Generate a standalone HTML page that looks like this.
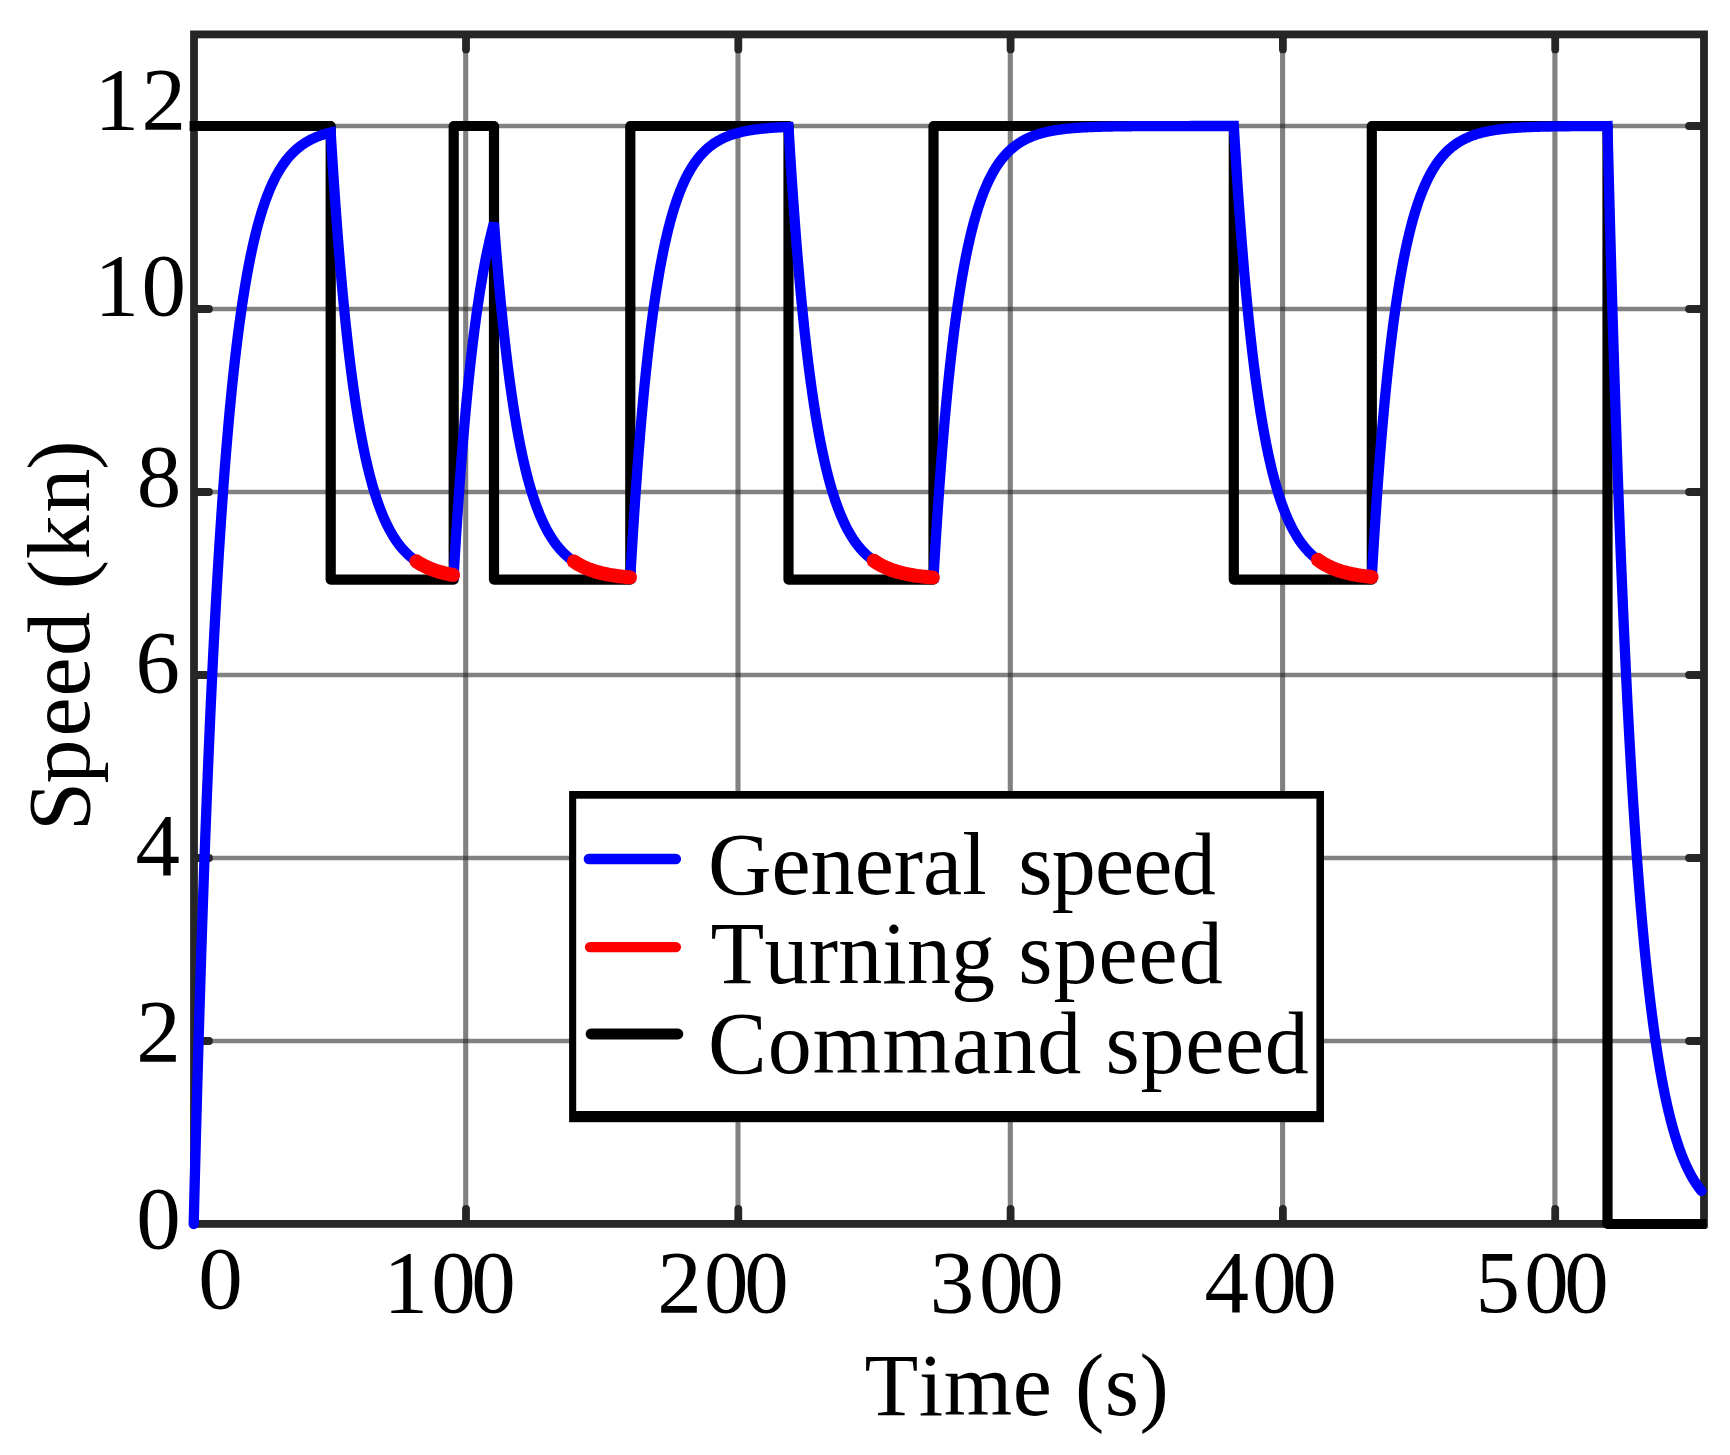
<!DOCTYPE html>
<html lang="en"><head><meta charset="utf-8"><title>Speed vs time</title>
<style>html,body{margin:0;padding:0;background:#fff;overflow:hidden}svg{display:block}</style></head>
<body>
<svg width="1730" height="1455" viewBox="0 0 1730 1455">
<rect width="1730" height="1455" fill="#fff"/>
<g stroke="#262626" stroke-opacity="0.58" fill="none">
<line x1="465.7" y1="34.4" x2="465.7" y2="1223.9" stroke-width="5.1"/>
<line x1="738" y1="34.4" x2="738" y2="1223.9" stroke-width="5.1"/>
<line x1="1010.3" y1="34.4" x2="1010.3" y2="1223.9" stroke-width="5.1"/>
<line x1="1282.6" y1="34.4" x2="1282.6" y2="1223.9" stroke-width="5.1"/>
<line x1="1554.9" y1="34.4" x2="1554.9" y2="1223.9" stroke-width="5.1"/>
<line x1="194" y1="1041" x2="1704" y2="1041" stroke-width="4.3"/>
<line x1="194" y1="858" x2="1704" y2="858" stroke-width="4.3"/>
<line x1="194" y1="675" x2="1704" y2="675" stroke-width="4.3"/>
<line x1="194" y1="492" x2="1704" y2="492" stroke-width="4.3"/>
<line x1="194" y1="309" x2="1704" y2="309" stroke-width="4.3"/>
<line x1="194" y1="126" x2="1704" y2="126" stroke-width="4.3"/>
</g>
<g stroke="#262626" stroke-width="7.8" fill="none" stroke-linecap="round">
<line x1="466" y1="35.4" x2="466" y2="49.4"/>
<line x1="466" y1="1222.9" x2="466" y2="1208.9"/>
<line x1="738.3" y1="35.4" x2="738.3" y2="49.4"/>
<line x1="738.3" y1="1222.9" x2="738.3" y2="1208.9"/>
<line x1="1010.6" y1="35.4" x2="1010.6" y2="49.4"/>
<line x1="1010.6" y1="1222.9" x2="1010.6" y2="1208.9"/>
<line x1="1282.9" y1="35.4" x2="1282.9" y2="49.4"/>
<line x1="1282.9" y1="1222.9" x2="1282.9" y2="1208.9"/>
<line x1="1555.2" y1="35.4" x2="1555.2" y2="49.4"/>
<line x1="1555.2" y1="1222.9" x2="1555.2" y2="1208.9"/>
<line x1="195" y1="1041" x2="209" y2="1041"/>
<line x1="1703" y1="1041" x2="1689" y2="1041"/>
<line x1="195" y1="858" x2="209" y2="858"/>
<line x1="1703" y1="858" x2="1689" y2="858"/>
<line x1="195" y1="675" x2="209" y2="675"/>
<line x1="1703" y1="675" x2="1689" y2="675"/>
<line x1="195" y1="492" x2="209" y2="492"/>
<line x1="1703" y1="492" x2="1689" y2="492"/>
<line x1="195" y1="309" x2="209" y2="309"/>
<line x1="1703" y1="309" x2="1689" y2="309"/>
<line x1="195" y1="126" x2="209" y2="126"/>
<line x1="1703" y1="126" x2="1689" y2="126"/>
<rect x="194" y="34.4" width="1510" height="1189.5" stroke-linejoin="miter"/>
</g>
<path d="M189.6,126 H330.7 V579.6 H453.7 V126 H494 V579.6 H630.3 V126 H788.5 V579.6 H933.5 V126 H1233.8 V579.6 H1371.8 V126 H1607.5 V1224 H1706.6" fill="none" stroke="#000" stroke-width="10.2" stroke-linejoin="round" stroke-linecap="butt"/>
<path d="M193.7,1224 L194.38,1196.31 L195.06,1169.32 L195.74,1143.01 L196.43,1117.36 L197.11,1092.36 L197.79,1067.99 L198.47,1044.23 L199.15,1021.08 L199.83,998.51 L200.52,976.5 L201.2,955.05 L201.88,934.15 L202.56,913.77 L203.24,893.9 L203.92,874.54 L204.61,855.66 L205.29,837.26 L205.97,819.32 L206.65,801.84 L207.33,784.79 L208.01,768.18 L208.7,751.99 L209.38,736.2 L210.06,720.81 L210.74,705.81 L211.42,691.19 L212.1,676.94 L212.78,663.04 L213.47,649.5 L214.15,636.3 L214.83,623.43 L215.51,610.88 L216.19,598.66 L216.87,586.74 L217.56,575.12 L218.24,563.79 L218.92,552.75 L219.6,541.99 L220.28,531.5 L220.96,521.27 L221.65,511.3 L222.33,501.59 L223.01,492.12 L223.69,482.88 L224.37,473.88 L225.05,465.11 L225.73,456.56 L226.42,448.22 L227.1,440.1 L227.78,432.18 L228.46,424.45 L229.14,416.93 L229.82,409.59 L230.51,402.44 L231.19,395.47 L231.87,388.67 L232.55,382.05 L233.23,375.59 L233.91,369.3 L234.6,363.16 L235.28,357.18 L235.96,351.35 L236.64,345.67 L237.32,340.13 L238,334.73 L238.69,329.46 L239.37,324.33 L240.05,319.33 L240.73,314.46 L241.41,309.7 L242.09,305.07 L242.77,300.55 L243.46,296.15 L244.14,291.86 L244.82,287.68 L245.5,283.6 L246.18,279.63 L246.86,275.75 L247.55,271.98 L248.23,268.3 L248.91,264.71 L249.59,261.21 L250.27,257.8 L250.95,254.48 L251.64,251.24 L252.32,248.08 L253,245 L253.68,242 L254.36,239.07 L255.04,236.22 L255.72,233.44 L256.41,230.73 L257.09,228.09 L257.77,225.52 L258.45,223.01 L259.13,220.56 L259.81,218.18 L260.5,215.85 L261.18,213.59 L261.86,211.38 L262.54,209.22 L263.22,207.12 L263.9,205.08 L264.59,203.08 L265.27,201.14 L265.95,199.25 L266.63,197.4 L267.31,195.6 L267.99,193.84 L268.68,192.13 L269.36,190.46 L270.04,188.84 L270.72,187.25 L271.4,185.71 L272.08,184.2 L272.76,182.74 L273.45,181.3 L274.13,179.91 L274.81,178.55 L275.49,177.23 L276.17,175.93 L276.85,174.67 L277.54,173.45 L278.22,172.25 L278.9,171.08 L279.58,169.95 L280.26,168.84 L280.94,167.76 L281.63,166.71 L282.31,165.68 L282.99,164.68 L283.67,163.7 L284.35,162.75 L285.03,161.83 L285.71,160.92 L286.4,160.04 L287.08,159.18 L287.76,158.35 L288.44,157.53 L289.12,156.73 L289.8,155.96 L290.49,155.2 L291.17,154.47 L291.85,153.75 L292.53,153.05 L293.21,152.37 L293.89,151.7 L294.58,151.05 L295.26,150.42 L295.94,149.81 L296.62,149.21 L297.3,148.62 L297.98,148.05 L298.67,147.49 L299.35,146.95 L300.03,146.42 L300.71,145.91 L301.39,145.41 L302.07,144.92 L302.75,144.44 L303.44,143.98 L304.12,143.52 L304.8,143.08 L305.48,142.65 L306.16,142.23 L306.84,141.82 L307.53,141.42 L308.21,141.03 L308.89,140.65 L309.57,140.28 L310.25,139.92 L310.93,139.57 L311.62,139.23 L312.3,138.9 L312.98,138.57 L313.66,138.25 L314.34,137.95 L315.02,137.64 L315.7,137.35 L316.39,137.06 L317.07,136.79 L317.75,136.51 L318.43,136.25 L319.11,135.99 L319.79,135.74 L320.48,135.49 L321.16,135.25 L321.84,135.02 L322.52,134.79 L323.2,134.57 L323.88,134.35 L324.57,134.14 L325.25,133.94 L325.93,133.74 L326.61,133.54 L327.29,133.35 L327.97,133.17 L328.66,132.99 L329.34,132.81 L330.02,132.64 L330.7,132.47 L331.38,143.72 L332.07,154.68 L332.75,165.37 L333.43,175.79 L334.12,185.95 L334.8,195.85 L335.48,205.51 L336.17,214.92 L336.85,224.09 L337.53,233.03 L338.22,241.75 L338.9,250.25 L339.58,258.53 L340.27,266.61 L340.95,274.48 L341.63,282.16 L342.32,289.64 L343,296.94 L343.68,304.05 L344.37,310.98 L345.05,317.73 L345.73,324.32 L346.42,330.74 L347.1,337 L347.78,343.11 L348.47,349.06 L349.15,354.85 L349.83,360.51 L350.52,366.02 L351.2,371.39 L351.88,376.63 L352.57,381.74 L353.25,386.71 L353.93,391.57 L354.62,396.3 L355.3,400.91 L355.98,405.4 L356.67,409.78 L357.35,414.06 L358.03,418.22 L358.72,422.28 L359.4,426.24 L360.08,430.09 L360.77,433.86 L361.45,437.52 L362.13,441.1 L362.82,444.58 L363.5,447.98 L364.18,451.29 L364.87,454.51 L365.55,457.66 L366.23,460.73 L366.92,463.72 L367.6,466.63 L368.28,469.48 L368.97,472.25 L369.65,474.95 L370.33,477.58 L371.02,480.15 L371.7,482.65 L372.38,485.09 L373.07,487.46 L373.75,489.78 L374.43,492.04 L375.12,494.24 L375.8,496.39 L376.48,498.48 L377.17,500.52 L377.85,502.51 L378.53,504.45 L379.22,506.34 L379.9,508.19 L380.58,509.98 L381.27,511.73 L381.95,513.44 L382.63,515.1 L383.32,516.73 L384,518.31 L384.68,519.85 L385.37,521.35 L386.05,522.82 L386.73,524.25 L387.42,525.64 L388.1,527 L388.78,528.32 L389.47,529.61 L390.15,530.87 L390.83,532.09 L391.52,533.29 L392.2,534.45 L392.88,535.59 L393.57,536.7 L394.25,537.78 L394.93,538.83 L395.62,539.85 L396.3,540.85 L396.98,541.83 L397.67,542.78 L398.35,543.7 L399.03,544.61 L399.72,545.49 L400.4,546.35 L401.08,547.18 L401.77,548 L402.45,548.79 L403.13,549.57 L403.82,550.32 L404.5,551.06 L405.18,551.78 L405.87,552.48 L406.55,553.16 L407.23,553.82 L407.92,554.47 L408.6,555.11 L409.28,555.72 L409.97,556.32 L410.65,556.91 L411.33,557.48 L412.02,558.03 L412.7,558.58 L413.38,559.11 L414.07,559.62 L414.75,560.12 L415.43,560.61 L416.12,561.09 L416.8,561.56 L417.48,562.01 L418.17,562.45 L418.85,562.88 L419.53,563.31 L420.22,563.72 L420.9,564.11 L421.58,564.5 L422.27,564.88 L422.95,565.25 L423.63,565.62 L424.32,565.97 L425,566.31 L425.68,566.64 L426.37,566.97 L427.05,567.29 L427.73,567.6 L428.42,567.9 L429.1,568.19 L429.78,568.48 L430.47,568.76 L431.15,569.03 L431.83,569.3 L432.52,569.56 L433.2,569.81 L433.88,570.06 L434.57,570.3 L435.25,570.53 L435.93,570.76 L436.62,570.98 L437.3,571.2 L437.98,571.41 L438.67,571.62 L439.35,571.82 L440.03,572.01 L440.72,572.2 L441.4,572.39 L442.08,572.57 L442.77,572.75 L443.45,572.92 L444.13,573.09 L444.82,573.25 L445.5,573.41 L446.18,573.57 L446.87,573.72 L447.55,573.87 L448.23,574.01 L448.92,574.15 L449.6,574.29 L450.28,574.42 L450.97,574.55 L451.65,574.68 L452.33,574.8 L453.02,574.92 L453.7,575.04 L454.38,563.52 L455.07,552.29 L455.75,541.35 L456.43,530.7 L457.12,520.31 L457.8,510.19 L458.48,500.34 L459.16,490.73 L459.85,481.37 L460.53,472.25 L461.21,463.37 L461.9,454.71 L462.58,446.28 L463.26,438.06 L463.95,430.05 L464.63,422.25 L465.31,414.65 L465.99,407.24 L466.68,400.03 L467.36,392.99 L468.04,386.14 L468.73,379.47 L469.41,372.96 L470.09,366.63 L470.78,360.45 L471.46,354.44 L472.14,348.58 L472.83,342.87 L473.51,337.3 L474.19,331.88 L474.87,326.6 L475.56,321.45 L476.24,316.43 L476.92,311.55 L477.61,306.79 L478.29,302.15 L478.97,297.63 L479.66,293.22 L480.34,288.93 L481.02,284.75 L481.71,280.68 L482.39,276.71 L483.07,272.84 L483.75,269.07 L484.44,265.4 L485.12,261.83 L485.8,258.34 L486.49,254.95 L487.17,251.64 L487.85,248.41 L488.54,245.27 L489.22,242.21 L489.9,239.23 L490.58,236.32 L491.27,233.49 L491.95,230.74 L492.63,228.05 L493.32,225.43 L494,222.88 L494.68,231.83 L495.36,240.55 L496.04,249.06 L496.73,257.35 L497.41,265.44 L498.09,273.32 L498.77,281 L499.45,288.49 L500.13,295.8 L500.81,302.92 L501.5,309.86 L502.18,316.63 L502.86,323.22 L503.54,329.66 L504.22,335.93 L504.9,342.04 L505.59,348 L506.27,353.81 L506.95,359.48 L507.63,365 L508.31,370.38 L508.99,375.63 L509.67,380.75 L510.36,385.74 L511.04,390.6 L511.72,395.34 L512.4,399.97 L513.08,404.47 L513.76,408.87 L514.44,413.15 L515.13,417.33 L515.81,421.4 L516.49,425.37 L517.17,429.24 L517.85,433.01 L518.53,436.69 L519.22,440.27 L519.9,443.77 L520.58,447.17 L521.26,450.5 L521.94,453.74 L522.62,456.89 L523.3,459.97 L523.99,462.97 L524.67,465.9 L525.35,468.75 L526.03,471.53 L526.71,474.24 L527.39,476.89 L528.08,479.46 L528.76,481.98 L529.44,484.43 L530.12,486.81 L530.8,489.14 L531.48,491.41 L532.16,493.62 L532.85,495.78 L533.53,497.88 L534.21,499.93 L534.89,501.93 L535.57,503.88 L536.25,505.78 L536.93,507.63 L537.62,509.44 L538.3,511.2 L538.98,512.91 L539.66,514.59 L540.34,516.22 L541.02,517.81 L541.7,519.36 L542.39,520.87 L543.07,522.34 L543.75,523.78 L544.43,525.18 L545.11,526.55 L545.79,527.88 L546.48,529.17 L547.16,530.44 L547.84,531.67 L548.52,532.88 L549.2,534.05 L549.88,535.19 L550.56,536.31 L551.25,537.39 L551.93,538.45 L552.61,539.48 L553.29,540.49 L553.97,541.47 L554.65,542.43 L555.33,543.36 L556.02,544.27 L556.7,545.16 L557.38,546.02 L558.06,546.86 L558.74,547.68 L559.42,548.48 L560.11,549.26 L560.79,550.03 L561.47,550.77 L562.15,551.49 L562.83,552.2 L563.51,552.88 L564.19,553.55 L564.88,554.21 L565.56,554.84 L566.24,555.47 L566.92,556.07 L567.6,556.66 L568.28,557.24 L568.96,557.8 L569.65,558.34 L570.33,558.88 L571.01,559.4 L571.69,559.9 L572.37,560.4 L573.05,560.88 L573.74,561.35 L574.42,561.81 L575.1,562.25 L575.78,562.69 L576.46,563.11 L577.14,563.53 L577.82,563.93 L578.51,564.32 L579.19,564.71 L579.87,565.08 L580.55,565.45 L581.23,565.8 L581.91,566.15 L582.6,566.48 L583.28,566.81 L583.96,567.13 L584.64,567.45 L585.32,567.75 L586,568.05 L586.68,568.34 L587.37,568.62 L588.05,568.9 L588.73,569.17 L589.41,569.43 L590.09,569.68 L590.77,569.93 L591.45,570.17 L592.14,570.41 L592.82,570.64 L593.5,570.87 L594.18,571.08 L594.86,571.3 L595.54,571.51 L596.22,571.71 L596.91,571.91 L597.59,572.1 L598.27,572.29 L598.95,572.47 L599.63,572.65 L600.31,572.83 L601,573 L601.68,573.16 L602.36,573.32 L603.04,573.48 L603.72,573.63 L604.4,573.78 L605.08,573.93 L605.77,574.07 L606.45,574.21 L607.13,574.35 L607.81,574.48 L608.49,574.61 L609.17,574.73 L609.86,574.85 L610.54,574.97 L611.22,575.09 L611.9,575.2 L612.58,575.31 L613.26,575.42 L613.94,575.52 L614.63,575.63 L615.31,575.73 L615.99,575.82 L616.67,575.92 L617.35,576.01 L618.03,576.1 L618.71,576.19 L619.4,576.27 L620.08,576.36 L620.76,576.44 L621.44,576.52 L622.12,576.6 L622.8,576.67 L623.48,576.74 L624.17,576.82 L624.85,576.89 L625.53,576.95 L626.21,577.02 L626.89,577.09 L627.57,577.15 L628.26,577.21 L628.94,577.27 L629.62,577.33 L630.3,577.39 L630.98,565.58 L631.66,554.08 L632.35,542.89 L633.03,531.99 L633.71,521.37 L634.39,511.03 L635.07,500.96 L635.76,491.16 L636.44,481.61 L637.12,472.31 L637.8,463.25 L638.48,454.43 L639.16,445.84 L639.85,437.48 L640.53,429.33 L641.21,421.4 L641.89,413.67 L642.57,406.15 L643.26,398.82 L643.94,391.69 L644.62,384.74 L645.3,377.98 L645.98,371.39 L646.67,364.97 L647.35,358.72 L648.03,352.63 L648.71,346.71 L649.39,340.93 L650.07,335.31 L650.76,329.84 L651.44,324.51 L652.12,319.32 L652.8,314.26 L653.48,309.34 L654.17,304.54 L654.85,299.87 L655.53,295.33 L656.21,290.9 L656.89,286.59 L657.58,282.39 L658.26,278.3 L658.94,274.31 L659.62,270.44 L660.3,266.66 L660.99,262.98 L661.67,259.4 L662.35,255.91 L663.03,252.51 L663.71,249.2 L664.39,245.98 L665.08,242.84 L665.76,239.79 L666.44,236.81 L667.12,233.91 L667.8,231.09 L668.49,228.34 L669.17,225.67 L669.85,223.06 L670.53,220.52 L671.21,218.05 L671.9,215.64 L672.58,213.3 L673.26,211.02 L673.94,208.79 L674.62,206.63 L675.31,204.52 L675.99,202.47 L676.67,200.47 L677.35,198.52 L678.03,196.62 L678.71,194.78 L679.4,192.98 L680.08,191.23 L680.76,189.52 L681.44,187.86 L682.12,186.24 L682.81,184.67 L683.49,183.13 L684.17,181.64 L684.85,180.18 L685.53,178.77 L686.22,177.39 L686.9,176.04 L687.58,174.73 L688.26,173.46 L688.94,172.22 L689.62,171.01 L690.31,169.83 L690.99,168.69 L691.67,167.57 L692.35,166.48 L693.03,165.42 L693.72,164.39 L694.4,163.39 L695.08,162.41 L695.76,161.46 L696.44,160.53 L697.13,159.63 L697.81,158.75 L698.49,157.89 L699.17,157.06 L699.85,156.25 L700.54,155.46 L701.22,154.68 L701.9,153.93 L702.58,153.2 L703.26,152.49 L703.94,151.8 L704.63,151.13 L705.31,150.47 L705.99,149.83 L706.67,149.2 L707.35,148.6 L708.04,148.01 L708.72,147.43 L709.4,146.87 L710.08,146.33 L710.76,145.79 L711.45,145.28 L712.13,144.77 L712.81,144.28 L713.49,143.8 L714.17,143.34 L714.86,142.88 L715.54,142.44 L716.22,142.01 L716.9,141.59 L717.58,141.19 L718.26,140.79 L718.95,140.4 L719.63,140.03 L720.31,139.66 L720.99,139.3 L721.67,138.95 L722.36,138.61 L723.04,138.28 L723.72,137.96 L724.4,137.65 L725.08,137.35 L725.77,137.05 L726.45,136.76 L727.13,136.48 L727.81,136.21 L728.49,135.94 L729.17,135.68 L729.86,135.43 L730.54,135.18 L731.22,134.94 L731.9,134.7 L732.58,134.48 L733.27,134.26 L733.95,134.04 L734.63,133.83 L735.31,133.62 L735.99,133.43 L736.68,133.23 L737.36,133.04 L738.04,132.86 L738.72,132.68 L739.4,132.5 L740.09,132.33 L740.77,132.17 L741.45,132.01 L742.13,131.85 L742.81,131.7 L743.49,131.55 L744.18,131.4 L744.86,131.26 L745.54,131.12 L746.22,130.99 L746.9,130.86 L747.59,130.73 L748.27,130.61 L748.95,130.49 L749.63,130.37 L750.31,130.26 L751,130.14 L751.68,130.04 L752.36,129.93 L753.04,129.83 L753.72,129.73 L754.41,129.63 L755.09,129.54 L755.77,129.44 L756.45,129.35 L757.13,129.27 L757.81,129.18 L758.5,129.1 L759.18,129.02 L759.86,128.94 L760.54,128.86 L761.22,128.79 L761.91,128.71 L762.59,128.64 L763.27,128.57 L763.95,128.51 L764.63,128.44 L765.32,128.38 L766,128.31 L766.68,128.25 L767.36,128.19 L768.04,128.14 L768.72,128.08 L769.41,128.03 L770.09,127.97 L770.77,127.92 L771.45,127.87 L772.13,127.82 L772.82,127.78 L773.5,127.73 L774.18,127.68 L774.86,127.64 L775.54,127.6 L776.23,127.55 L776.91,127.51 L777.59,127.47 L778.27,127.44 L778.95,127.4 L779.64,127.36 L780.32,127.33 L781,127.29 L781.68,127.26 L782.36,127.22 L783.04,127.19 L783.73,127.16 L784.41,127.13 L785.09,127.1 L785.77,127.07 L786.45,127.04 L787.14,127.02 L787.82,126.99 L788.5,126.97 L789.18,138.31 L789.86,149.37 L790.54,160.15 L791.22,170.66 L791.9,180.91 L792.58,190.9 L793.27,200.64 L793.95,210.14 L794.63,219.4 L795.31,228.43 L795.99,237.23 L796.67,245.81 L797.35,254.17 L798.03,262.33 L798.71,270.28 L799.39,278.03 L800.07,285.59 L800.75,292.96 L801.43,300.14 L802.12,307.15 L802.8,313.97 L803.48,320.63 L804.16,327.12 L804.84,333.45 L805.52,339.62 L806.2,345.63 L806.88,351.5 L807.56,357.21 L808.24,362.79 L808.92,368.22 L809.6,373.52 L810.28,378.68 L810.96,383.72 L811.65,388.63 L812.33,393.41 L813.01,398.08 L813.69,402.63 L814.37,407.06 L815.05,411.39 L815.73,415.6 L816.41,419.71 L817.09,423.72 L817.77,427.63 L818.45,431.43 L819.13,435.15 L819.81,438.77 L820.5,442.3 L821.18,445.74 L821.86,449.09 L822.54,452.36 L823.22,455.55 L823.9,458.66 L824.58,461.69 L825.26,464.65 L825.94,467.53 L826.62,470.34 L827.3,473.07 L827.98,475.74 L828.66,478.35 L829.35,480.88 L830.03,483.36 L830.71,485.77 L831.39,488.12 L832.07,490.41 L832.75,492.65 L833.43,494.83 L834.11,496.95 L834.79,499.02 L835.47,501.04 L836.15,503.01 L836.83,504.93 L837.51,506.8 L838.19,508.63 L838.88,510.41 L839.56,512.14 L840.24,513.83 L840.92,515.48 L841.6,517.09 L842.28,518.65 L842.96,520.18 L843.64,521.67 L844.32,523.12 L845,524.54 L845.68,525.92 L846.36,527.26 L847.04,528.57 L847.73,529.85 L848.41,531.1 L849.09,532.31 L849.77,533.5 L850.45,534.66 L851.13,535.78 L851.81,536.88 L852.49,537.95 L853.17,538.99 L853.85,540.01 L854.53,541 L855.21,541.97 L855.89,542.91 L856.58,543.83 L857.26,544.73 L857.94,545.6 L858.62,546.46 L859.3,547.29 L859.98,548.1 L860.66,548.89 L861.34,549.66 L862.02,550.41 L862.7,551.14 L863.38,551.85 L864.06,552.55 L864.74,553.22 L865.42,553.89 L866.11,554.53 L866.79,555.16 L867.47,555.77 L868.15,556.37 L868.83,556.95 L869.51,557.52 L870.19,558.07 L870.87,558.61 L871.55,559.14 L872.23,559.65 L872.91,560.15 L873.59,560.64 L874.27,561.11 L874.96,561.58 L875.64,562.03 L876.32,562.47 L877,562.9 L877.68,563.32 L878.36,563.72 L879.04,564.12 L879.72,564.51 L880.4,564.89 L881.08,565.26 L881.76,565.62 L882.44,565.97 L883.12,566.31 L883.81,566.64 L884.49,566.97 L885.17,567.28 L885.85,567.59 L886.53,567.89 L887.21,568.19 L887.89,568.47 L888.57,568.75 L889.25,569.02 L889.93,569.29 L890.61,569.55 L891.29,569.8 L891.97,570.04 L892.65,570.28 L893.34,570.52 L894.02,570.74 L894.7,570.97 L895.38,571.18 L896.06,571.39 L896.74,571.6 L897.42,571.8 L898.1,572 L898.78,572.19 L899.46,572.37 L900.14,572.55 L900.82,572.73 L901.5,572.9 L902.19,573.07 L902.87,573.23 L903.55,573.39 L904.23,573.55 L904.91,573.7 L905.59,573.85 L906.27,573.99 L906.95,574.13 L907.63,574.27 L908.31,574.4 L908.99,574.53 L909.67,574.66 L910.35,574.78 L911.04,574.9 L911.72,575.02 L912.4,575.14 L913.08,575.25 L913.76,575.36 L914.44,575.46 L915.12,575.57 L915.8,575.67 L916.48,575.77 L917.16,575.86 L917.84,575.96 L918.52,576.05 L919.2,576.14 L919.88,576.22 L920.57,576.31 L921.25,576.39 L921.93,576.47 L922.61,576.55 L923.29,576.63 L923.97,576.7 L924.65,576.77 L925.33,576.84 L926.01,576.91 L926.69,576.98 L927.37,577.05 L928.05,577.11 L928.73,577.17 L929.42,577.23 L930.1,577.29 L930.78,577.35 L931.46,577.41 L932.14,577.46 L932.82,577.52 L933.5,577.57 L934.18,565.96 L934.86,554.64 L935.54,543.62 L936.22,532.88 L936.9,522.42 L937.59,512.23 L938.27,502.3 L938.95,492.62 L939.63,483.19 L940.31,474.01 L940.99,465.06 L941.67,456.34 L942.35,447.85 L943.03,439.57 L943.71,431.51 L944.4,423.66 L945.08,416 L945.76,408.54 L946.44,401.28 L947.12,394.2 L947.8,387.31 L948.48,380.59 L949.16,374.04 L949.84,367.66 L950.52,361.45 L951.2,355.39 L951.89,349.5 L952.57,343.75 L953.25,338.15 L953.93,332.69 L954.61,327.38 L955.29,322.2 L955.97,317.16 L956.65,312.24 L957.33,307.45 L958.01,302.79 L958.7,298.24 L959.38,293.81 L960.06,289.5 L960.74,285.29 L961.42,281.2 L962.1,277.21 L962.78,273.32 L963.46,269.53 L964.14,265.84 L964.82,262.24 L965.5,258.74 L966.19,255.33 L966.87,252 L967.55,248.76 L968.23,245.61 L968.91,242.53 L969.59,239.53 L970.27,236.62 L970.95,233.77 L971.63,231 L972.31,228.3 L973,225.67 L973.68,223.11 L974.36,220.61 L975.04,218.18 L975.72,215.81 L976.4,213.5 L977.08,211.25 L977.76,209.06 L978.44,206.92 L979.12,204.84 L979.8,202.81 L980.49,200.84 L981.17,198.91 L981.85,197.04 L982.53,195.21 L983.21,193.43 L983.89,191.7 L984.57,190.01 L985.25,188.36 L985.93,186.76 L986.61,185.2 L987.3,183.67 L987.98,182.19 L988.66,180.75 L989.34,179.34 L990.02,177.97 L990.7,176.63 L991.38,175.33 L992.06,174.06 L992.74,172.83 L993.42,171.62 L994.1,170.45 L994.79,169.31 L995.47,168.19 L996.15,167.11 L996.83,166.05 L997.51,165.02 L998.19,164.02 L998.87,163.04 L999.55,162.09 L1000.23,161.16 L1000.91,160.26 L1001.6,159.37 L1002.28,158.52 L1002.96,157.68 L1003.64,156.87 L1004.32,156.07 L1005,155.3 L1005.68,154.55 L1006.36,153.81 L1007.04,153.1 L1007.72,152.4 L1008.4,151.72 L1009.09,151.06 L1009.77,150.41 L1010.45,149.79 L1011.13,149.18 L1011.81,148.58 L1012.49,148 L1013.17,147.43 L1013.85,146.88 L1014.53,146.35 L1015.21,145.82 L1015.9,145.31 L1016.58,144.82 L1017.26,144.33 L1017.94,143.86 L1018.62,143.4 L1019.3,142.95 L1019.98,142.52 L1020.66,142.09 L1021.34,141.68 L1022.02,141.28 L1022.7,140.88 L1023.39,140.5 L1024.07,140.13 L1024.75,139.76 L1025.43,139.41 L1026.11,139.07 L1026.79,138.73 L1027.47,138.4 L1028.15,138.08 L1028.83,137.77 L1029.51,137.47 L1030.2,137.18 L1030.88,136.89 L1031.56,136.61 L1032.24,136.34 L1032.92,136.07 L1033.6,135.81 L1034.28,135.56 L1034.96,135.31 L1035.64,135.07 L1036.32,134.84 L1037,134.61 L1037.69,134.39 L1038.37,134.18 L1039.05,133.97 L1039.73,133.76 L1040.41,133.56 L1041.09,133.37 L1041.77,133.18 L1042.45,132.99 L1043.13,132.81 L1043.81,132.64 L1044.5,132.47 L1045.18,132.3 L1045.86,132.14 L1046.54,131.98 L1047.22,131.83 L1047.9,131.68 L1048.58,131.53 L1049.26,131.39 L1049.94,131.25 L1050.62,131.12 L1051.3,130.98 L1051.99,130.86 L1052.67,130.73 L1053.35,130.61 L1054.03,130.49 L1054.71,130.38 L1055.39,130.26 L1056.07,130.15 L1056.75,130.05 L1057.43,129.94 L1058.11,129.84 L1058.8,129.74 L1059.48,129.65 L1060.16,129.55 L1060.84,129.46 L1061.52,129.37 L1062.2,129.29 L1062.88,129.2 L1063.56,129.12 L1064.24,129.04 L1064.92,128.96 L1065.6,128.88 L1066.29,128.81 L1066.97,128.74 L1067.65,128.67 L1068.33,128.6 L1069.01,128.53 L1069.69,128.47 L1070.37,128.4 L1071.05,128.34 L1071.73,128.28 L1072.41,128.22 L1073.1,128.17 L1073.78,128.11 L1074.46,128.06 L1075.14,128 L1075.82,127.95 L1076.5,127.9 L1077.18,127.85 L1077.86,127.8 L1078.54,127.76 L1079.22,127.71 L1079.9,127.67 L1080.59,127.63 L1081.27,127.58 L1081.95,127.54 L1082.63,127.5 L1083.31,127.47 L1083.99,127.43 L1084.67,127.39 L1085.35,127.35 L1086.03,127.32 L1086.71,127.29 L1087.4,127.25 L1088.08,127.22 L1088.76,127.19 L1089.44,127.16 L1090.12,127.13 L1090.8,127.1 L1091.48,127.07 L1092.16,127.04 L1092.84,127.02 L1093.52,126.99 L1094.2,126.97 L1094.89,126.94 L1095.57,126.92 L1096.25,126.89 L1096.93,126.87 L1097.61,126.85 L1098.29,126.83 L1098.97,126.8 L1099.65,126.78 L1100.33,126.76 L1101.01,126.74 L1101.7,126.73 L1102.38,126.71 L1103.06,126.69 L1103.74,126.67 L1104.42,126.65 L1105.1,126.64 L1105.78,126.62 L1106.46,126.6 L1107.14,126.59 L1107.82,126.57 L1108.5,126.56 L1109.19,126.54 L1109.87,126.53 L1110.55,126.52 L1111.23,126.5 L1111.91,126.49 L1112.59,126.48 L1113.27,126.47 L1113.95,126.45 L1114.63,126.44 L1115.31,126.43 L1116,126.42 L1116.68,126.41 L1117.36,126.4 L1118.04,126.39 L1118.72,126.38 L1119.4,126.37 L1120.08,126.36 L1120.76,126.35 L1121.44,126.34 L1122.12,126.33 L1122.8,126.32 L1123.49,126.32 L1124.17,126.31 L1124.85,126.3 L1125.53,126.29 L1126.21,126.28 L1126.89,126.28 L1127.57,126.27 L1128.25,126.26 L1128.93,126.26 L1129.61,126.25 L1130.3,126.24 L1130.98,126.24 L1131.66,126.23 L1132.34,126.22 L1133.02,126.22 L1133.7,126.21 L1134.38,126.21 L1135.06,126.2 L1135.74,126.2 L1136.42,126.19 L1137.1,126.19 L1137.79,126.18 L1138.47,126.18 L1139.15,126.17 L1139.83,126.17 L1140.51,126.16 L1141.19,126.16 L1141.87,126.16 L1142.55,126.15 L1143.23,126.15 L1143.91,126.14 L1144.6,126.14 L1145.28,126.14 L1145.96,126.13 L1146.64,126.13 L1147.32,126.13 L1148,126.12 L1148.68,126.12 L1149.36,126.12 L1150.04,126.11 L1150.72,126.11 L1151.4,126.11 L1152.09,126.11 L1152.77,126.1 L1153.45,126.1 L1154.13,126.1 L1154.81,126.1 L1155.49,126.09 L1156.17,126.09 L1156.85,126.09 L1157.53,126.09 L1158.21,126.08 L1158.9,126.08 L1159.58,126.08 L1160.26,126.08 L1160.94,126.08 L1161.62,126.07 L1162.3,126.07 L1162.98,126.07 L1163.66,126.07 L1164.34,126.07 L1165.02,126.06 L1165.7,126.06 L1166.39,126.06 L1167.07,126.06 L1167.75,126.06 L1168.43,126.06 L1169.11,126.06 L1169.79,126.05 L1170.47,126.05 L1171.15,126.05 L1171.83,126.05 L1172.51,126.05 L1173.2,126.05 L1173.88,126.05 L1174.56,126.04 L1175.24,126.04 L1175.92,126.04 L1176.6,126.04 L1177.28,126.04 L1177.96,126.04 L1178.64,126.04 L1179.32,126.04 L1180,126.04 L1180.69,126.04 L1181.37,126.03 L1182.05,126.03 L1182.73,126.03 L1183.41,126.03 L1184.09,126.03 L1184.77,126.03 L1185.45,126.03 L1186.13,126.03 L1186.81,126.03 L1187.5,126.03 L1188.18,126.03 L1188.86,126.03 L1189.54,126.03 L1190.22,126.02 L1190.9,126.02 L1191.58,126.02 L1192.26,126.02 L1192.94,126.02 L1193.62,126.02 L1194.3,126.02 L1194.99,126.02 L1195.67,126.02 L1196.35,126.02 L1197.03,126.02 L1197.71,126.02 L1198.39,126.02 L1199.07,126.02 L1199.75,126.02 L1200.43,126.02 L1201.11,126.02 L1201.8,126.02 L1202.48,126.02 L1203.16,126.01 L1203.84,126.01 L1204.52,126.01 L1205.2,126.01 L1205.88,126.01 L1206.56,126.01 L1207.24,126.01 L1207.92,126.01 L1208.6,126.01 L1209.29,126.01 L1209.97,126.01 L1210.65,126.01 L1211.33,126.01 L1212.01,126.01 L1212.69,126.01 L1213.37,126.01 L1214.05,126.01 L1214.73,126.01 L1215.41,126.01 L1216.1,126.01 L1216.78,126.01 L1217.46,126.01 L1218.14,126.01 L1218.82,126.01 L1219.5,126.01 L1220.18,126.01 L1220.86,126.01 L1221.54,126.01 L1222.22,126.01 L1222.9,126.01 L1223.59,126.01 L1224.27,126.01 L1224.95,126.01 L1225.63,126.01 L1226.31,126.01 L1226.99,126.01 L1227.67,126.01 L1228.35,126.01 L1229.03,126.01 L1229.71,126.01 L1230.4,126.01 L1231.08,126.01 L1231.76,126.01 L1232.44,126 L1233.12,126 L1233.8,126 L1234.48,137.41 L1235.17,148.53 L1235.85,159.37 L1236.53,169.94 L1237.22,180.24 L1237.9,190.29 L1238.58,200.08 L1239.27,209.62 L1239.95,218.93 L1240.63,228 L1241.31,236.84 L1242,245.46 L1242.68,253.86 L1243.36,262.06 L1244.05,270.04 L1244.73,277.83 L1245.41,285.42 L1246.1,292.82 L1246.78,300.03 L1247.46,307.06 L1248.15,313.91 L1248.83,320.6 L1249.51,327.11 L1250.2,333.46 L1250.88,339.65 L1251.56,345.68 L1252.25,351.57 L1252.93,357.3 L1253.61,362.89 L1254.3,368.34 L1254.98,373.66 L1255.66,378.83 L1256.34,383.88 L1257.03,388.81 L1257.71,393.6 L1258.39,398.28 L1259.08,402.84 L1259.76,407.29 L1260.44,411.62 L1261.13,415.85 L1261.81,419.96 L1262.49,423.98 L1263.18,427.89 L1263.86,431.71 L1264.54,435.43 L1265.23,439.05 L1265.91,442.59 L1266.59,446.03 L1267.28,449.39 L1267.96,452.67 L1268.64,455.86 L1269.32,458.97 L1270.01,462 L1270.69,464.96 L1271.37,467.85 L1272.06,470.66 L1272.74,473.4 L1273.42,476.07 L1274.11,478.67 L1274.79,481.21 L1275.47,483.68 L1276.16,486.1 L1276.84,488.45 L1277.52,490.74 L1278.21,492.97 L1278.89,495.15 L1279.57,497.28 L1280.26,499.35 L1280.94,501.37 L1281.62,503.33 L1282.3,505.25 L1282.99,507.12 L1283.67,508.94 L1284.35,510.72 L1285.04,512.45 L1285.72,514.14 L1286.4,515.79 L1287.09,517.39 L1287.77,518.96 L1288.45,520.48 L1289.14,521.97 L1289.82,523.42 L1290.5,524.83 L1291.19,526.21 L1291.87,527.55 L1292.55,528.86 L1293.24,530.14 L1293.92,531.38 L1294.6,532.59 L1295.29,533.78 L1295.97,534.93 L1296.65,536.05 L1297.33,537.15 L1298.02,538.21 L1298.7,539.25 L1299.38,540.27 L1300.07,541.26 L1300.75,542.22 L1301.43,543.16 L1302.12,544.08 L1302.8,544.97 L1303.48,545.84 L1304.17,546.69 L1304.85,547.52 L1305.53,548.33 L1306.22,549.11 L1306.9,549.88 L1307.58,550.63 L1308.27,551.36 L1308.95,552.07 L1309.63,552.76 L1310.31,553.43 L1311,554.09 L1311.68,554.73 L1312.36,555.36 L1313.05,555.97 L1313.73,556.56 L1314.41,557.14 L1315.1,557.71 L1315.78,558.26 L1316.46,558.79 L1317.15,559.32 L1317.83,559.83 L1318.51,560.32 L1319.2,560.81 L1319.88,561.28 L1320.56,561.74 L1321.25,562.19 L1321.93,562.63 L1322.61,563.06 L1323.3,563.47 L1323.98,563.88 L1324.66,564.27 L1325.34,564.66 L1326.03,565.03 L1326.71,565.4 L1327.39,565.76 L1328.08,566.11 L1328.76,566.45 L1329.44,566.78 L1330.13,567.1 L1330.81,567.41 L1331.49,567.72 L1332.18,568.02 L1332.86,568.31 L1333.54,568.59 L1334.23,568.87 L1334.91,569.14 L1335.59,569.4 L1336.28,569.66 L1336.96,569.91 L1337.64,570.15 L1338.32,570.39 L1339.01,570.62 L1339.69,570.85 L1340.37,571.07 L1341.06,571.28 L1341.74,571.49 L1342.42,571.7 L1343.11,571.9 L1343.79,572.09 L1344.47,572.28 L1345.16,572.46 L1345.84,572.64 L1346.52,572.82 L1347.21,572.99 L1347.89,573.15 L1348.57,573.32 L1349.26,573.47 L1349.94,573.63 L1350.62,573.78 L1351.3,573.92 L1351.99,574.07 L1352.67,574.21 L1353.35,574.34 L1354.04,574.47 L1354.72,574.6 L1355.4,574.73 L1356.09,574.85 L1356.77,574.97 L1357.45,575.09 L1358.14,575.2 L1358.82,575.31 L1359.5,575.42 L1360.19,575.52 L1360.87,575.63 L1361.55,575.73 L1362.24,575.82 L1362.92,575.92 L1363.6,576.01 L1364.29,576.1 L1364.97,576.19 L1365.65,576.28 L1366.33,576.36 L1367.02,576.44 L1367.7,576.52 L1368.38,576.6 L1369.07,576.67 L1369.75,576.75 L1370.43,576.82 L1371.12,576.89 L1371.8,576.96 L1372.48,565.36 L1373.16,554.06 L1373.84,543.04 L1374.52,532.32 L1375.21,521.87 L1375.89,511.68 L1376.57,501.76 L1377.25,492.1 L1377.93,482.68 L1378.61,473.5 L1379.29,464.57 L1379.97,455.86 L1380.66,447.37 L1381.34,439.11 L1382.02,431.05 L1382.7,423.2 L1383.38,415.56 L1384.06,408.11 L1384.74,400.85 L1385.42,393.78 L1386.11,386.9 L1386.79,380.19 L1387.47,373.65 L1388.15,367.28 L1388.83,361.07 L1389.51,355.02 L1390.19,349.13 L1390.87,343.39 L1391.56,337.8 L1392.24,332.35 L1392.92,327.05 L1393.6,321.87 L1394.28,316.84 L1394.96,311.93 L1395.64,307.14 L1396.32,302.48 L1397,297.94 L1397.69,293.52 L1398.37,289.21 L1399.05,285.01 L1399.73,280.92 L1400.41,276.94 L1401.09,273.06 L1401.77,269.27 L1402.45,265.59 L1403.14,262 L1403.82,258.5 L1404.5,255.09 L1405.18,251.77 L1405.86,248.54 L1406.54,245.38 L1407.22,242.31 L1407.9,239.32 L1408.59,236.41 L1409.27,233.57 L1409.95,230.8 L1410.63,228.1 L1411.31,225.48 L1411.99,222.92 L1412.67,220.43 L1413.35,218 L1414.04,215.63 L1414.72,213.32 L1415.4,211.08 L1416.08,208.89 L1416.76,206.76 L1417.44,204.68 L1418.12,202.66 L1418.8,200.68 L1419.48,198.76 L1420.17,196.89 L1420.85,195.07 L1421.53,193.29 L1422.21,191.56 L1422.89,189.87 L1423.57,188.23 L1424.25,186.63 L1424.93,185.07 L1425.62,183.55 L1426.3,182.07 L1426.98,180.63 L1427.66,179.22 L1428.34,177.85 L1429.02,176.52 L1429.7,175.22 L1430.38,173.95 L1431.07,172.72 L1431.75,171.52 L1432.43,170.35 L1433.11,169.21 L1433.79,168.1 L1434.47,167.01 L1435.15,165.96 L1435.83,164.93 L1436.52,163.93 L1437.2,162.95 L1437.88,162 L1438.56,161.08 L1439.24,160.17 L1439.92,159.3 L1440.6,158.44 L1441.28,157.6 L1441.97,156.79 L1442.65,156 L1443.33,155.23 L1444.01,154.48 L1444.69,153.74 L1445.37,153.03 L1446.05,152.33 L1446.73,151.66 L1447.41,151 L1448.1,150.35 L1448.78,149.73 L1449.46,149.12 L1450.14,148.52 L1450.82,147.94 L1451.5,147.38 L1452.18,146.83 L1452.86,146.29 L1453.55,145.77 L1454.23,145.26 L1454.91,144.77 L1455.59,144.28 L1456.27,143.81 L1456.95,143.36 L1457.63,142.91 L1458.31,142.47 L1459,142.05 L1459.68,141.64 L1460.36,141.24 L1461.04,140.84 L1461.72,140.46 L1462.4,140.09 L1463.08,139.73 L1463.76,139.37 L1464.45,139.03 L1465.13,138.7 L1465.81,138.37 L1466.49,138.05 L1467.17,137.74 L1467.85,137.44 L1468.53,137.14 L1469.21,136.86 L1469.89,136.58 L1470.58,136.31 L1471.26,136.04 L1471.94,135.78 L1472.62,135.53 L1473.3,135.29 L1473.98,135.05 L1474.66,134.81 L1475.34,134.59 L1476.03,134.37 L1476.71,134.15 L1477.39,133.94 L1478.07,133.74 L1478.75,133.54 L1479.43,133.34 L1480.11,133.16 L1480.79,132.97 L1481.48,132.79 L1482.16,132.62 L1482.84,132.45 L1483.52,132.28 L1484.2,132.12 L1484.88,131.96 L1485.56,131.81 L1486.24,131.66 L1486.93,131.51 L1487.61,131.37 L1488.29,131.23 L1488.97,131.1 L1489.65,130.97 L1490.33,130.84 L1491.01,130.72 L1491.69,130.59 L1492.37,130.48 L1493.06,130.36 L1493.74,130.25 L1494.42,130.14 L1495.1,130.03 L1495.78,129.93 L1496.46,129.83 L1497.14,129.73 L1497.82,129.63 L1498.51,129.54 L1499.19,129.45 L1499.87,129.36 L1500.55,129.27 L1501.23,129.19 L1501.91,129.11 L1502.59,129.03 L1503.27,128.95 L1503.96,128.87 L1504.64,128.8 L1505.32,128.73 L1506,128.66 L1506.68,128.59 L1507.36,128.52 L1508.04,128.46 L1508.72,128.4 L1509.41,128.33 L1510.09,128.27 L1510.77,128.21 L1511.45,128.16 L1512.13,128.1 L1512.81,128.05 L1513.49,128 L1514.17,127.94 L1514.85,127.89 L1515.54,127.85 L1516.22,127.8 L1516.9,127.75 L1517.58,127.71 L1518.26,127.66 L1518.94,127.62 L1519.62,127.58 L1520.3,127.54 L1520.99,127.5 L1521.67,127.46 L1522.35,127.42 L1523.03,127.39 L1523.71,127.35 L1524.39,127.32 L1525.07,127.28 L1525.75,127.25 L1526.44,127.22 L1527.12,127.19 L1527.8,127.15 L1528.48,127.12 L1529.16,127.1 L1529.84,127.07 L1530.52,127.04 L1531.2,127.01 L1531.89,126.99 L1532.57,126.96 L1533.25,126.94 L1533.93,126.91 L1534.61,126.89 L1535.29,126.87 L1535.97,126.84 L1536.65,126.82 L1537.33,126.8 L1538.02,126.78 L1538.7,126.76 L1539.38,126.74 L1540.06,126.72 L1540.74,126.7 L1541.42,126.69 L1542.1,126.67 L1542.78,126.65 L1543.47,126.63 L1544.15,126.62 L1544.83,126.6 L1545.51,126.59 L1546.19,126.57 L1546.87,126.56 L1547.55,126.54 L1548.23,126.53 L1548.92,126.51 L1549.6,126.5 L1550.28,126.49 L1550.96,126.48 L1551.64,126.46 L1552.32,126.45 L1553,126.44 L1553.68,126.43 L1554.37,126.42 L1555.05,126.41 L1555.73,126.4 L1556.41,126.39 L1557.09,126.38 L1557.77,126.37 L1558.45,126.36 L1559.13,126.35 L1559.82,126.34 L1560.5,126.33 L1561.18,126.32 L1561.86,126.31 L1562.54,126.31 L1563.22,126.3 L1563.9,126.29 L1564.58,126.28 L1565.26,126.28 L1565.95,126.27 L1566.63,126.26 L1567.31,126.25 L1567.99,126.25 L1568.67,126.24 L1569.35,126.24 L1570.03,126.23 L1570.71,126.22 L1571.4,126.22 L1572.08,126.21 L1572.76,126.21 L1573.44,126.2 L1574.12,126.2 L1574.8,126.19 L1575.48,126.19 L1576.16,126.18 L1576.85,126.18 L1577.53,126.17 L1578.21,126.17 L1578.89,126.16 L1579.57,126.16 L1580.25,126.16 L1580.93,126.15 L1581.61,126.15 L1582.3,126.14 L1582.98,126.14 L1583.66,126.14 L1584.34,126.13 L1585.02,126.13 L1585.7,126.13 L1586.38,126.12 L1587.06,126.12 L1587.74,126.12 L1588.43,126.11 L1589.11,126.11 L1589.79,126.11 L1590.47,126.11 L1591.15,126.1 L1591.83,126.1 L1592.51,126.1 L1593.19,126.09 L1593.88,126.09 L1594.56,126.09 L1595.24,126.09 L1595.92,126.09 L1596.6,126.08 L1597.28,126.08 L1597.96,126.08 L1598.64,126.08 L1599.33,126.07 L1600.01,126.07 L1600.69,126.07 L1601.37,126.07 L1602.05,126.07 L1602.73,126.07 L1603.41,126.06 L1604.09,126.06 L1604.78,126.06 L1605.46,126.06 L1606.14,126.06 L1606.82,126.06 L1607.5,126.05 L1608.18,153.59 L1608.86,180.43 L1609.54,206.6 L1610.22,232.11 L1610.91,256.98 L1611.59,281.23 L1612.27,304.87 L1612.95,327.92 L1613.63,350.39 L1614.31,372.3 L1614.99,393.66 L1615.67,414.48 L1616.36,434.78 L1617.04,454.57 L1617.72,473.86 L1618.4,492.67 L1619.08,511.01 L1619.76,528.89 L1620.44,546.32 L1621.12,563.32 L1621.8,579.88 L1622.49,596.04 L1623.17,611.78 L1623.85,627.13 L1624.53,642.1 L1625.21,656.69 L1625.89,670.92 L1626.57,684.79 L1627.25,698.31 L1627.93,711.49 L1628.62,724.34 L1629.3,736.87 L1629.98,749.09 L1630.66,761 L1631.34,772.61 L1632.02,783.93 L1632.7,794.96 L1633.38,805.72 L1634.07,816.21 L1634.75,826.44 L1635.43,836.41 L1636.11,846.12 L1636.79,855.6 L1637.47,864.84 L1638.15,873.84 L1638.83,882.63 L1639.51,891.19 L1640.2,899.53 L1640.88,907.67 L1641.56,915.6 L1642.24,923.33 L1642.92,930.87 L1643.6,938.22 L1644.28,945.39 L1644.96,952.38 L1645.64,959.19 L1646.33,965.83 L1647.01,972.3 L1647.69,978.61 L1648.37,984.77 L1649.05,990.77 L1649.73,996.61 L1650.41,1002.32 L1651.09,1007.88 L1651.78,1013.3 L1652.46,1018.58 L1653.14,1023.73 L1653.82,1028.75 L1654.5,1033.65 L1655.18,1038.42 L1655.86,1043.08 L1656.54,1047.61 L1657.22,1052.04 L1657.91,1056.35 L1658.59,1060.55 L1659.27,1064.65 L1659.95,1068.65 L1660.63,1072.54 L1661.31,1076.34 L1661.99,1080.04 L1662.67,1083.65 L1663.36,1087.17 L1664.04,1090.6 L1664.72,1093.95 L1665.4,1097.21 L1666.08,1100.39 L1666.76,1103.49 L1667.44,1106.51 L1668.12,1109.46 L1668.8,1112.33 L1669.49,1115.13 L1670.17,1117.86 L1670.85,1120.52 L1671.53,1123.12 L1672.21,1125.65 L1672.89,1128.11 L1673.57,1130.52 L1674.25,1132.86 L1674.93,1135.15 L1675.62,1137.37 L1676.3,1139.55 L1676.98,1141.66 L1677.66,1143.73 L1678.34,1145.74 L1679.02,1147.7 L1679.7,1149.62 L1680.38,1151.48 L1681.07,1153.3 L1681.75,1155.07 L1682.43,1156.8 L1683.11,1158.49 L1683.79,1160.13 L1684.47,1161.73 L1685.15,1163.29 L1685.83,1164.82 L1686.51,1166.3 L1687.2,1167.75 L1687.88,1169.16 L1688.56,1170.53 L1689.24,1171.87 L1689.92,1173.18 L1690.6,1174.45 L1691.28,1175.7 L1691.96,1176.91 L1692.64,1178.09 L1693.33,1179.24 L1694.01,1180.36 L1694.69,1181.46 L1695.37,1182.52 L1696.05,1183.56 L1696.73,1184.58 L1697.41,1185.57 L1698.09,1186.53 L1698.78,1187.47 L1699.46,1188.39 L1700.14,1189.28 L1700.82,1190.15 L1701.5,1191" fill="none" stroke="#0000ff" stroke-width="10.3" stroke-linejoin="miter" stroke-miterlimit="3" stroke-linecap="round"/>
<path d="M416.4,561.29 L417.63,562.1 L418.85,562.89 L420.08,563.63 L421.31,564.35 L422.53,565.03 L423.76,565.68 L424.99,566.3 L426.21,566.9 L427.44,567.47 L428.67,568.01 L429.89,568.53 L431.12,569.02 L432.35,569.49 L433.57,569.95 L434.8,570.38 L436.03,570.79 L437.25,571.18 L438.48,571.56 L439.71,571.92 L440.93,572.26 L442.16,572.59 L443.39,572.9 L444.61,573.2 L445.84,573.49 L447.07,573.76 L448.29,574.02 L449.52,574.27 L450.75,574.51 L451.97,574.74 L453.2,574.96" fill="none" stroke="#ff0000" stroke-width="14" stroke-linejoin="round" stroke-linecap="round"/>
<path d="M573.9,561.46 L575.77,562.68 L577.64,563.82 L579.51,564.89 L581.38,565.88 L583.25,566.8 L585.12,567.66 L586.99,568.47 L588.86,569.22 L590.73,569.92 L592.6,570.57 L594.47,571.18 L596.34,571.74 L598.21,572.27 L600.08,572.77 L601.95,573.23 L603.82,573.66 L605.69,574.06 L607.56,574.43 L609.43,574.78 L611.3,575.1 L613.17,575.41 L615.04,575.69 L616.91,575.95 L618.78,576.2 L620.65,576.43 L622.52,576.64 L624.39,576.84 L626.26,577.03 L628.13,577.2 L630,577.36" fill="none" stroke="#ff0000" stroke-width="14" stroke-linejoin="round" stroke-linecap="round"/>
<path d="M873.6,560.64 L875.58,561.99 L877.55,563.24 L879.53,564.4 L881.51,565.48 L883.48,566.48 L885.46,567.42 L887.44,568.28 L889.41,569.09 L891.39,569.83 L893.37,570.53 L895.34,571.17 L897.32,571.77 L899.3,572.33 L901.27,572.84 L903.25,573.32 L905.23,573.77 L907.2,574.18 L909.18,574.57 L911.16,574.93 L913.13,575.26 L915.11,575.57 L917.09,575.85 L919.06,576.12 L921.04,576.37 L923.02,576.6 L924.99,576.81 L926.97,577.01 L928.95,577.19 L930.92,577.36 L932.9,577.52" fill="none" stroke="#ff0000" stroke-width="14" stroke-linejoin="round" stroke-linecap="round"/>
<path d="M1317.9,559.88 L1319.69,561.15 L1321.48,562.34 L1323.27,563.46 L1325.06,564.5 L1326.85,565.47 L1328.64,566.39 L1330.43,567.24 L1332.22,568.04 L1334.01,568.78 L1335.8,569.48 L1337.59,570.14 L1339.38,570.75 L1341.17,571.32 L1342.96,571.85 L1344.75,572.35 L1346.54,572.82 L1348.33,573.26 L1350.12,573.67 L1351.91,574.05 L1353.7,574.41 L1355.49,574.74 L1357.28,575.06 L1359.07,575.35 L1360.86,575.63 L1362.65,575.88 L1364.44,576.12 L1366.23,576.35 L1368.02,576.56 L1369.81,576.75 L1371.6,576.94" fill="none" stroke="#ff0000" stroke-width="14" stroke-linejoin="round" stroke-linecap="round"/>
<rect x="569.1" y="791" width="754.9" height="331.2" fill="#000"/>
<rect x="576.2" y="798.7" width="740.2" height="312.3" fill="#fff"/>
<g fill="none" stroke-linecap="round">
<line x1="588.8" y1="859" x2="675.9" y2="859" stroke="#0000ff" stroke-width="10.3"/>
<line x1="590" y1="947.1" x2="675.9" y2="947.1" stroke="#ff0000" stroke-width="10.4"/>
<line x1="591" y1="1034" x2="677.9" y2="1034" stroke="#000" stroke-width="10.8"/>
</g>
<g font-family="'Liberation Serif', serif" fill="#000" font-size="89">
<text x="198.35" y="1308.3">0</text>
<text x="383.41 431.15 471.15" y="1312.3">100</text>
<text x="657.25 704.1 744.25" y="1312.3">200</text>
<text x="929.81 979.05 1019.25" y="1312.3">300</text>
<text x="1204.48 1252.15 1292.35" y="1312.3">400</text>
<text x="1475.55 1524.15 1564.35" y="1312.3">500</text>
<text x="94.41 141.4" y="128.5">12</text>
<text x="94.41 141.45" y="315.2">10</text>
<text x="136.75" y="506.1">8</text>
<text x="135.61" y="692">6</text>
<text x="135.58" y="875.1">4</text>
<text x="136.2" y="1060.7">2</text>
<text x="136.2" y="1248">0</text>
<text x="864.41 918.72 943.72 1012.73 1052.34 1074.9 1104.76 1139.56" y="1414.9" font-size="88">Time (s)</text>
<text transform="rotate(-90)" x="-830.99 -783.52 -736.54 -696.54 -656.08 -612.08 -589.37 -559.28 -512.72 -469.74" y="89.2" font-size="88">Speed (kn)</text>
<text x="707.89 771.49 810.6 854.65 893.75 923.11 962.21 986.66 1018.29 1051.79 1095.05 1133.36 1171.67" y="894.2" font-size="88">General speed</text>
<text x="710.61 764.52 808.68 838.15 882.31 906.92 951.08 995.08 1018.29 1053.54 1098.55 1138.61 1178.67" y="983.1" font-size="88">Turning speed</text>
<text x="707.89 767.72 812.86 882.45 952.04 992.24 1037.37 1081.37 1105.59 1140.57 1185.3 1225.09 1264.87" y="1072.7" font-size="88">Command speed</text>
</g>
</svg>
</body></html>
